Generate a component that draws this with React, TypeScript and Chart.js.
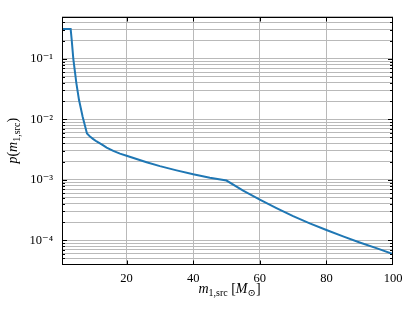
import React, { useEffect, useRef } from "react";
import { Chart, registerables } from "chart.js";
Chart.register(...registerables);

// Primary mass (source frame) and its probability density
const massValues = [0.6, 3.2, 3.5, 4.0, 4.5, 4.9, 5.7, 6.8, 8.1, 9, 10, 11, 12, 13, 14, 16, 18, 20, 23, 26, 30, 35, 40, 45, 50, 55, 60, 65, 70, 75, 80, 85, 90, 95, 100, 100];
const densityValues = [0.31, 0.31, 0.21, 0.10, 0.060, 0.040, 0.021, 0.011, 0.0058, 0.0052, 0.0047, 0.0043, 0.0040, 0.0037, 0.0034, 0.0030, 0.0027, 0.0025, 0.0022, 0.00195, 0.00168, 0.00143, 0.00123, 0.00108, 0.00097, 0.00066, 0.00047, 0.00034, 0.00025, 0.00019, 0.000148, 0.000116, 0.000092, 0.000074, 0.000059, 0.00001];

const xTickValues = [20, 40, 60, 80, 100];
const yDecades = [-5, -4, -3, -2, -1];
const yMin = 3.9e-5;
const yMax = 0.5;
const supers: Record<string, string> = { "-": "⁻", "0": "⁰", "1": "¹", "2": "²", "3": "³", "4": "⁴", "5": "⁵" };

const FONT = "'Liberation Serif', 'DejaVu Serif', serif";

type Part = { t: string; it?: boolean; sz: number; dy?: number };

function drawRich(ctx: CanvasRenderingContext2D, parts: Part[], cx: number, by: number) {
  let w = 0;
  for (const p of parts) {
    ctx.font = `${p.it ? "italic " : ""}${p.sz}px ${FONT}`;
    w += ctx.measureText(p.t).width;
  }
  let x = cx - w / 2;
  ctx.textAlign = "left";
  ctx.textBaseline = "alphabetic";
  for (const p of parts) {
    ctx.font = `${p.it ? "italic " : ""}${p.sz}px ${FONT}`;
    ctx.fillText(p.t, x, by + (p.dy || 0));
    x += ctx.measureText(p.t).width;
  }
}

const framePlugin = {
  id: "frame",
  afterDraw(chart: any) {
    const { ctx, chartArea } = chart;
    const { left, right, top, bottom } = chartArea;
    const xs = chart.scales.x;
    const ys = chart.scales.y;
    ctx.save();
    ctx.strokeStyle = "#000";
    ctx.lineWidth = 1;
    const L = Math.round(left) + 0.5, R = Math.round(right) - 0.5, T = Math.round(top) + 0.5, B = Math.round(bottom) - 0.5;
    ctx.strokeRect(L, T, R - L, B - T);
    ctx.beginPath();
    for (const v of xTickValues) {
      if (v >= 100) continue;
      const px = Math.round(xs.getPixelForValue(v)) + 0.5;
      ctx.moveTo(px, B); ctx.lineTo(px, B - 4);
      ctx.moveTo(px, T); ctx.lineTo(px, T + 4);
    }
    for (const t of ys.ticks) {
      const v = t.value;
      if (v <= yMin || v >= yMax) continue;
      const lg = Math.log10(v);
      const major = Math.abs(lg - Math.round(lg)) < 1e-9;
      const len = major ? 4.5 : 2.5;
      const py = Math.round(ys.getPixelForValue(v)) + 0.5;
      ctx.moveTo(L, py); ctx.lineTo(L + len, py);
      ctx.moveTo(R, py); ctx.lineTo(R - len, py);
    }
    ctx.stroke();

    ctx.fillStyle = "#000";
    // x title
    drawRich(ctx, [
      { t: "m", it: true, sz: 14 },
      { t: "1,src", sz: 10, dy: 3 },
      { t: " [", sz: 14 },
      { t: "M", it: true, sz: 14 },
      { t: "⊙", sz: 10, dy: 3 },
      { t: "]", sz: 14 },
    ], (left + right) / 2 + 2, 293);
    // y title
    ctx.translate(17, (top + bottom) / 2);
    ctx.rotate(-Math.PI / 2);
    drawRich(ctx, [
      { t: "p", it: true, sz: 14 },
      { t: "(", sz: 14 },
      { t: "m", it: true, sz: 14 },
      { t: "1,src", sz: 10, dy: 3 },
      { t: ")", sz: 14 },
    ], 0, 0);
    ctx.restore();
  },
};

export default function App() {
  const ref = useRef<HTMLCanvasElement>(null);
  useEffect(() => {
    if (!ref.current) return;
    const points = massValues.map((m, i) => ({ x: m, y: densityValues[i] }));
    const chart = new Chart(ref.current, {
      type: "line",
      data: {
        datasets: [{
          data: points,
          borderColor: "#1f77b4",
          borderWidth: 2,
          pointRadius: 0,
          tension: 0,
          fill: false,
        }],
      },
      options: {
        animation: false,
        responsive: false,
        devicePixelRatio: 1,
        layout: { padding: { left: 0, right: 22, top: 15, bottom: 0 } },
        plugins: { legend: { display: false }, tooltip: { enabled: false } },
        scales: {
          x: {
            type: "linear",
            min: 0.6,
            max: 100,
            afterBuildTicks: (s: any) => { s.ticks = xTickValues.map((v) => ({ value: v })); },
            afterFit: (s: any) => { s.height = 47; },
            border: { display: false },
            grid: {
              color: (c: any) => (c.tick && c.tick.value >= 100 ? "rgba(0,0,0,0)" : "#b9b9b9"),
              lineWidth: 1,
              drawTicks: false,
            },
            ticks: {
              padding: 6,
              color: "#000",
              autoSkip: false,
              maxRotation: 0,
              font: { family: FONT, size: 12.5 },
              callback: (v: any) => String(v),
            },
          },
          y: {
            type: "logarithmic",
            min: yMin,
            max: yMax,
            afterBuildTicks: (s: any) => {
              const ticks: any[] = [];
              for (const d of yDecades) {
                for (let k = 1; k <= 9; k++) {
                  const v = k * Math.pow(10, d);
                  if (v >= yMin && v <= yMax * 1.0001) ticks.push({ value: v, major: k === 1 });
                }
              }
              s.ticks = ticks;
            },
            afterFit: (s: any) => { s.width = 62; },
            border: { display: false },
            grid: { color: "#b9b9b9", lineWidth: 1, drawTicks: false },
            ticks: {
              padding: 9,
              color: "#000",
              autoSkip: false,
              font: { family: FONT, size: 12.5 },
              callback: (v: any) => {
                const lg = Math.log10(Number(v));
                if (Math.abs(lg - Math.round(lg)) > 1e-9) return "";
                const e = String(Math.round(lg));
                return "10" + e.split("").map((c) => supers[c]).join("");
              },
            },
          },
        },
      },
      plugins: [framePlugin],
    } as any);
    return () => chart.destroy();
  }, []);
  return (
    <div style={{ position: "absolute", left: 0, top: 0, width: 415, height: 312, background: "#fff" }}>
      <canvas ref={ref} width={415} height={312} />
    </div>
  );
}
